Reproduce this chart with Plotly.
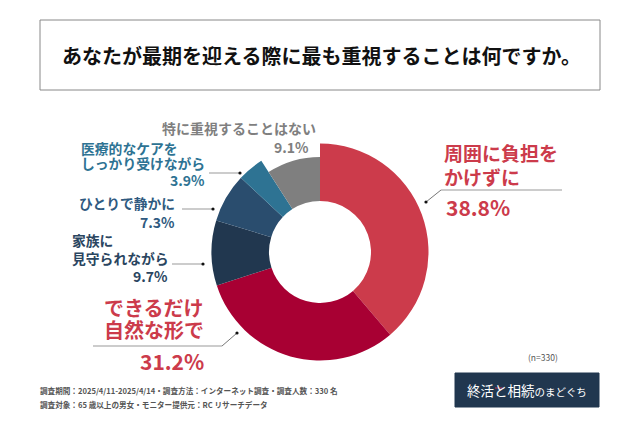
import plotly.graph_objects as go

W, H = 640, 427
FONT = "Noto Sans CJK JP"

categories = ["周囲に負担をかけずに", "できるだけ自然な形で", "家族に見守られながら",
              "ひとりで静かに", "医療的なケアをしっかり受けながら", "特に重視することはない"]
values = [38.8, 31.2, 9.7, 7.3, 3.9, 9.1]
colors = ["#CC3B4B", "#A80033", "#21374F", "#2A4D6E", "#2E7393", "#7F7F7F"]
CLEAR = "rgba(0,0,0,0)"
# the grey slice is drawn with a smaller radius than the others
main_colors = colors[:5] + [CLEAR]
small_colors = [CLEAR] * 5 + colors[5:]


def px(x):
    return x / W


def py(y):
    return 1 - y / H


def donut(slice_colors, radius, hole_radius=51, cx=320, cy=252):
    return go.Pie(
        labels=categories,
        values=values,
        sort=False,
        direction="clockwise",
        rotation=0,
        hole=hole_radius / radius,
        marker=dict(colors=slice_colors, line=dict(width=0)),
        textinfo="none",
        hoverinfo="label+value",
        showlegend=False,
        domain=dict(x=[px(cx - radius), px(cx + radius)], y=[py(cy + radius), py(cy - radius)]),
    )


fig = go.Figure([donut(main_colors, 108.5), donut(small_colors, 95)])

shapes = []


def line(x0, y0, x1, y1, color="#999999", width=1):
    shapes.append(dict(type="line", xref="paper", yref="paper",
                       x0=px(x0), y0=py(y0), x1=px(x1), y1=py(y1),
                       line=dict(color=color, width=width)))


def dot(x, y, r=1.6):
    shapes.append(dict(type="circle", xref="paper", yref="paper",
                       x0=px(x - r), y0=py(y - r), x1=px(x + r), y1=py(y + r),
                       fillcolor="#111111", line=dict(width=0)))


def rect(x0, y0, x1, y1, fill=CLEAR, border=None):
    shapes.append(dict(type="rect", xref="paper", yref="paper",
                       x0=px(x0), y0=py(y0), x1=px(x1), y1=py(y1), fillcolor=fill,
                       line=dict(color=border or fill, width=1)))


annotations = []


def text(x, y, s, size, color, anchor="left", bold=True):
    if bold:
        s = "<b>" + s + "</b>"
    annotations.append(dict(xref="paper", yref="paper", x=px(x), y=py(y), text=s,
                            showarrow=False, xanchor=anchor, yanchor="middle",
                            align=anchor, borderpad=0, borderwidth=0,
                            font=dict(family=FONT, size=size, color=color)))


# title box
rect(40, 20, 600, 90, fill="#FFFFFF", border="#888888")
text(321, 55, "あなたが最期を迎える際に最も重視することは何ですか。", 20, "#111111", anchor="center")

# callouts
line(426, 202, 441, 190, color="#777777")
line(441, 190, 562, 190, color="#999999")
dot(426, 202)
line(209, 173, 240, 173)
dot(240, 173)
line(182, 209, 213, 209)
dot(213, 209)
line(172, 264, 203, 264)
dot(203, 264)
line(93, 346, 222, 346, color="#bbbbbb", width=1.5)
line(222, 346, 237, 333, color="#777777")
dot(237, 333)

# labels
text(444, 153, "周囲に負担を", 19, "#CC3B4B")
text(444, 176, "かけずに", 19, "#CC3B4B")
text(446, 207, "38.8%", 21, "#CC3B4B")

text(204, 307, "できるだけ", 20, "#CC3B4B", anchor="right")
text(204, 329, "自然な形で", 20, "#CC3B4B", anchor="right")
text(204, 361, "31.2%", 21, "#CC3B4B", anchor="right")

text(72, 240, "家族に", 13.8, "#2A4560")
text(72, 258, "見守られながら", 13.8, "#2A4560")
text(168, 276, "9.7%", 14, "#2A4560", anchor="right")

text(175, 203, "ひとりで静かに", 13.8, "#2F5A80", anchor="right")
text(175, 222, "7.3%", 14, "#2F5A80", anchor="right")

text(81, 148, "医療的なケアを", 13.8, "#2E7393")
text(205, 163, "しっかり受けながら", 13.8, "#2E7393", anchor="right")
text(205, 180, "3.9%", 14, "#2E7393", anchor="right")

text(316, 128, "特に重視することはない", 14, "#7F7F7F", anchor="right")
text(309, 147, "9.1%", 14, "#7F7F7F", anchor="right")

# footer
text(40, 390, "調査期間：2025/4/11-2025/4/14・調査方法：インターネット調査・調査人数：330 名", 7.6, "#555555")
text(40, 404, "調査対象：65 歳以上の男女・モニター提供元：RC リサーチデータ", 7.6, "#555555")
text(543, 357, "(n=330)", 8.5, "#555555", anchor="center", bold=False)

# logo
rect(455, 373, 599, 407, fill="#21374F")
text(527, 390, "終活と相続<span style='font-size:10.5px'>のまどぐち</span>", 13.5, "#FFFFFF", anchor="center", bold=False)
line(495, 388, 503, 388, color="#C23B55")

fig.update_layout(
    width=W, height=H,
    margin=dict(l=0, r=0, t=0, b=0),
    paper_bgcolor="#FFFFFF",
    shapes=shapes,
    annotations=annotations,
)
# the page's default body margin would push the figure off by 8px
fig.write_html("out.html", config=dict(displayModeBar=False),
               post_script="document.body.style.margin='0';")
